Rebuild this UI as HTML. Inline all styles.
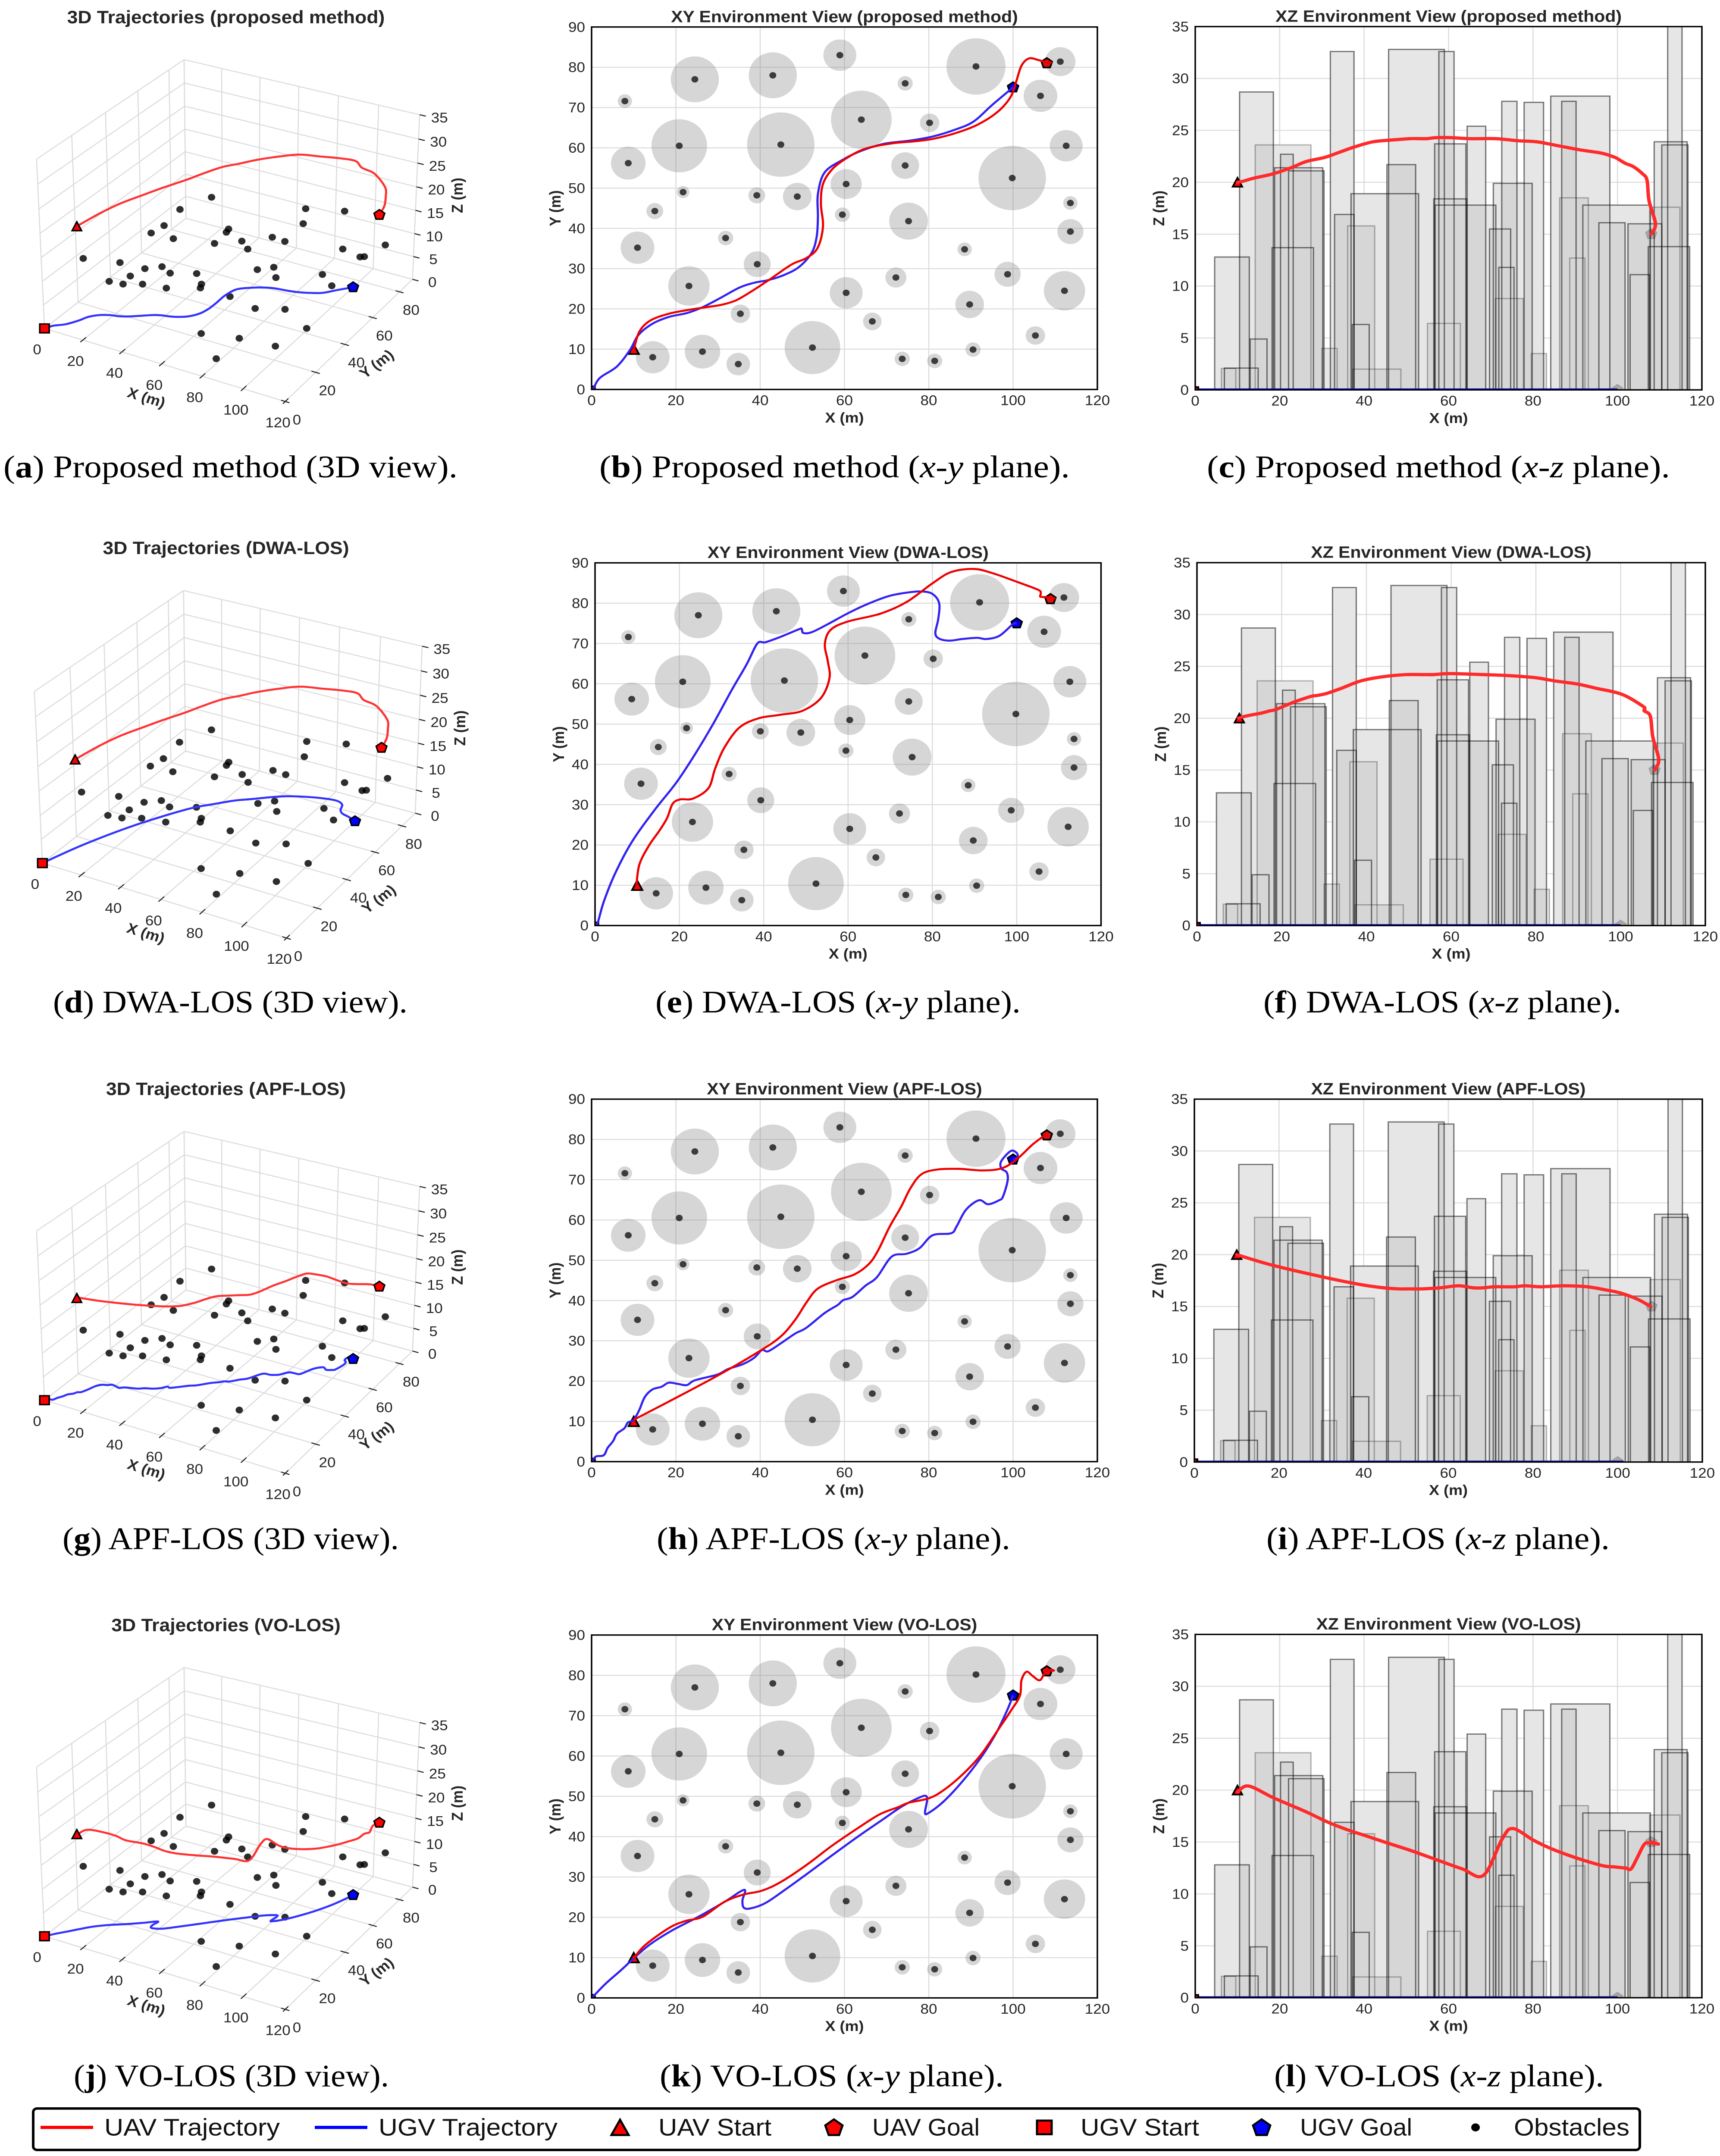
<!DOCTYPE html>
<html lang="en">
<head>
<meta charset="utf-8">
<title>Trajectory comparison figure</title>
<style>
html,body{margin:0;padding:0;background:#fff;width:3989px;overflow:hidden;}
svg{display:block;}
text{font-family:"Liberation Sans",sans-serif;fill:#262626;}
.cap text,text.cap{font-family:"Liberation Serif",serif;fill:#000;font-size:78px;}
.leg{font-size:60px;fill:#111;}
</style>
</head>
<body>
<svg id="figure" xmlns="http://www.w3.org/2000/svg" width="3989" height="5353" viewBox="0 0 3989 5353" preserveAspectRatio="none">
<rect x="0" y="0" width="3989" height="5353" fill="#fff"/>
<g id="plots"></g>
<g class="cap">
<text x="8" y="1185" textLength="1053" lengthAdjust="spacingAndGlyphs">(<tspan font-weight="bold">a</tspan>) Proposed method (3D view).</text>
<text x="1390" y="1185" textLength="1091" lengthAdjust="spacingAndGlyphs">(<tspan font-weight="bold">b</tspan>) Proposed method (<tspan font-style="italic">x-y</tspan> plane).</text>
<text x="2799" y="1185" textLength="1074" lengthAdjust="spacingAndGlyphs">(<tspan font-weight="bold">c</tspan>) Proposed method (<tspan font-style="italic">x-z</tspan> plane).</text>
<text x="123" y="2514" textLength="822" lengthAdjust="spacingAndGlyphs">(<tspan font-weight="bold">d</tspan>) DWA-LOS (3D view).</text>
<text x="1520" y="2514" textLength="847" lengthAdjust="spacingAndGlyphs">(<tspan font-weight="bold">e</tspan>) DWA-LOS (<tspan font-style="italic">x-y</tspan> plane).</text>
<text x="2930" y="2514" textLength="830" lengthAdjust="spacingAndGlyphs">(<tspan font-weight="bold">f</tspan>) DWA-LOS (<tspan font-style="italic">x-z</tspan> plane).</text>
<text x="145" y="3846" textLength="780" lengthAdjust="spacingAndGlyphs">(<tspan font-weight="bold">g</tspan>) APF-LOS (3D view).</text>
<text x="1523" y="3846" textLength="820" lengthAdjust="spacingAndGlyphs">(<tspan font-weight="bold">h</tspan>) APF-LOS (<tspan font-style="italic">x-y</tspan> plane).</text>
<text x="2937" y="3846" textLength="796" lengthAdjust="spacingAndGlyphs">(<tspan font-weight="bold">i</tspan>) APF-LOS (<tspan font-style="italic">x-z</tspan> plane).</text>
<text x="171" y="5180" textLength="731" lengthAdjust="spacingAndGlyphs">(<tspan font-weight="bold">j</tspan>) VO-LOS (3D view).</text>
<text x="1530" y="5180" textLength="798" lengthAdjust="spacingAndGlyphs">(<tspan font-weight="bold">k</tspan>) VO-LOS (<tspan font-style="italic">x-y</tspan> plane).</text>
<text x="2955" y="5180" textLength="765" lengthAdjust="spacingAndGlyphs">(<tspan font-weight="bold">l</tspan>) VO-LOS (<tspan font-style="italic">x-z</tspan> plane).</text>
</g>
<g>
<rect x="77" y="5235" width="3726" height="103" rx="9" fill="#fff" stroke="#000" stroke-width="6"/>
<line x1="94" y1="5282" x2="216" y2="5282" stroke="#ff0000" stroke-width="8"/>
<text class="leg" x="242" y="5302" textLength="407" lengthAdjust="spacingAndGlyphs">UAV Trajectory</text>
<line x1="730" y1="5282" x2="852" y2="5282" stroke="#0000ff" stroke-width="8"/>
<text class="leg" x="878" y="5302" textLength="415" lengthAdjust="spacingAndGlyphs">UGV Trajectory</text>
<polygon points="1438,5263 1418,5301 1458,5301" fill="#f00" stroke="#000" stroke-width="5"/>
<text class="leg" x="1527" y="5302" textLength="262" lengthAdjust="spacingAndGlyphs">UAV Start</text>
<polygon points="1934,5262 1954,5277 1946,5301 1922,5301 1914,5277" fill="#f00" stroke="#000" stroke-width="5"/>
<text class="leg" x="2023" y="5302" textLength="249" lengthAdjust="spacingAndGlyphs">UAV Goal</text>
<rect x="2405" y="5265" width="34" height="34" fill="#f00" stroke="#000" stroke-width="5"/>
<text class="leg" x="2506" y="5302" textLength="275" lengthAdjust="spacingAndGlyphs">UGV Start</text>
<polygon points="2926,5262 2946,5277 2938,5301 2914,5301 2906,5277" fill="#00f" stroke="#000" stroke-width="5"/>
<text class="leg" x="3015" y="5302" textLength="260" lengthAdjust="spacingAndGlyphs">UGV Goal</text>
<circle cx="3422" cy="5282" r="10" fill="#000"/>
<text class="leg" x="3511" y="5302" textLength="268" lengthAdjust="spacingAndGlyphs">Obstacles</text>
</g>
</svg>
<script>
// ---- chart data ----
const xTicks=[0,20,40,60,80,100,120];
const yTicks=[0,10,20,30,40,50,60,70,80,90];
const zTicks=[0,5,10,15,20,25,30,35];
const y3dTicks=[0,20,40,60,80];
const trajTitles=['3D Trajectories (proposed method)','3D Trajectories (DWA-LOS)','3D Trajectories (APF-LOS)','3D Trajectories (VO-LOS)'];
const xyTitles=['XY Environment View (proposed method)','XY Environment View (DWA-LOS)','XY Environment View (APF-LOS)','XY Environment View (VO-LOS)'];
const xzTitles=['XZ Environment View (proposed method)','XZ Environment View (DWA-LOS)','XZ Environment View (APF-LOS)','XZ Environment View (VO-LOS)'];
const xAxisLabel='X (m)';
const yAxisLabel='Y (m)';
const zAxisLabel='Z (m)';

const obsX=[7.9,8.7,10.9,15,14.5,20.8,21.7,24.5,23.1,26.3,31.8,34.8,35.3,39.2,39.3,43,44.9,48.8,52.4,58.9,59.5,60.4,60.4,64,66.6,72.2,73.7,74.4,74.4,75.2,80.2,81.4,88.5,89.7,90.5,91.2,98.7,99.8,105.3,106.5,111.2,112.2,112.6,113.6,113.6];
const obsY=[71.6,56.2,35.2,44.3,8,60.5,49,77,25.7,9.4,37.6,6.3,18.8,48.2,31.1,78,60.8,47.9,10.4,83,43.4,51,24,67,16.9,27.8,7.6,76,55.6,41.8,66.2,7.1,34.8,21.1,9.9,80.2,28.6,52.5,13.4,72.9,81.4,24.5,60.5,46.3,39.2];
const obsR=[1.7,4.1,4,2,4,6.6,1.5,5.7,4.9,4.2,1.8,2.8,2.3,2,3.2,5.7,8,3.4,6.6,3.9,1.8,3.7,3.9,7.2,2.2,2.5,1.8,1.8,3.3,4.6,2.3,1.8,1.7,3.4,1.8,7,3.1,8,2.3,4,3.6,4.9,3.9,1.7,3.1];
const obsH=[2.06,12.8,2.1,4.9,28.7,23.6,22.7,21.4,13.7,21.1,4,32.6,16.9,6.3,15.8,2,18.9,21.7,32.8,6.4,32.6,23.7,18.4,17.8,25.4,15.5,11.8,27.8,8.8,19.9,27.7,3.5,27.8,18.5,12.7,28.3,16.1,17.8,11.1,16,17.6,13.8,23.9,37,23.6];
const faintObstacles=[0,5,10,14,15,19,28,31,33,34,40];

const uavStart=[10,10,20];
const uavGoal=[108,81,15];
const ugvStart=[0,0,0];
const ugvGoal=[100,75,0];

const proposedUavX=[10,11.3,13.9,18.3,22.7,26.3,30.7,34.2,37.7,42.1,47.4,50.9,53.6,54.9,54.4,54.9,57.1,60.6,65,71.2,76.5,80.9,86.2,91.5,96.3,99.4,100.7,102,103.8,106,107,107.5,109,108];
const proposedUavY=[9.8,14.3,17.1,18.8,19.7,20.3,21,22.1,24.2,27.2,31,32.6,35.1,40.4,46.1,51,54.7,57.5,59.8,61.1,61.6,62.2,63.6,65.7,68.9,72.6,76.3,80.4,82.2,81.8,81.5,81.3,81.2,81];
const proposedUavZ=[20,20.1,20.4,20.8,21.4,22,22.4,22.9,23.4,23.9,24.1,24.2,24.2,24.2,24.2,24.2,24.3,24.3,24.2,24.2,24,23.9,23.5,23.1,22.8,22.4,22.1,21.8,21.5,20.8,20.2,18.2,16,15];
const proposedUgvX=[0,0.5,2,6,9.1,11.1,14.4,18.3,22.7,26.3,30.7,35.1,38.6,42.1,45.6,49.2,52.2,53.4,53.7,53.7,55.3,59.7,64.1,69.4,75.6,80.9,86.2,90.6,95,100];
const proposedUgvY=[0,0.4,2.9,5.7,9.8,13.5,16.3,18,19,20.4,22.8,25.3,26.5,27.2,28.4,30.4,33.9,37.9,42.8,48.5,53.9,57.1,59.3,61,61.8,62.8,64.5,66.5,70.6,75];

const dwaUavX=[9.8,10.5,12.7,15.3,17.1,18.4,20.2,23.2,26.9,28.5,30.7,34.2,38.7,43.9,49.2,53.6,55.6,55.2,54.5,55.8,59.8,67.7,73.9,80,84.4,89.7,94.1,100.3,105.1,105.7,105.6,107,107.6,109,108];
const dwaUavY=[9.9,15.1,19.7,23.6,26.7,30.2,31.3,31.5,34.1,39,44.2,49.1,51.4,52.3,53.3,56.5,61.4,65.6,69.8,73.3,75.4,77.4,80.3,84.9,87.7,88.5,87.5,85.2,83.3,82.4,81.6,81.5,81.3,81.2,81];
const dwaUavZ=[20,20.1,20.3,20.5,20.7,20.8,21.1,21.6,22.1,22.2,22.4,22.9,23.6,24,24.2,24.2,24.2,24.2,24.2,24.2,24.3,24.2,24.1,23.9,23.6,23.3,22.9,22.3,21.2,20.9,20.7,20.2,18.2,16,15];
const dwaUgvX=[0,0.6,2.1,4.8,8.7,14,19.3,23.7,28.1,32.5,36,38.5,40.4,43.9,48.3,49,49.4,51.4,55.4,59.8,64.2,69.5,73.9,77.4,80,81.6,81.4,80.7,81.6,84,87.1,90.6,92.8,95.9,99,100];
const dwaUgvY=[0,0.6,6,13,20.7,28.5,35.5,42.5,50.2,58.6,64.9,70,70.3,71.6,73.5,73.6,72.6,72.8,74.9,77.4,79.6,81.7,82.6,82.9,82.3,80,76.1,72.6,71.2,70.7,71.1,71.4,71.1,71.9,74.7,75];

// the 3D views of (a) and (d) show a smoother UAV track than the plan views
const track3dUavX=[10,13,17,22.8,28,34.8,39,44.7,50,55,62,69,77.8,85,91.7,94.5,101,108,108.5,108,108];
const track3dUavY=[10,20,28,35.3,41,48,52,58,63,68,74,78.7,81.6,84.5,86.6,87.3,87,84.6,84.6,84.6,81];
const track3dUavZ=[20,20.4,20.9,21.5,22.1,22.8,23.4,24,24.1,24.2,24.2,24.2,24,23.7,23.3,22,21.5,20,18,16,15];
const dwa3dUgvX=[0,6.6,17,29.6,38,44.4,50,56,62,69,77,84,88,89.7,92,96,100];
const dwa3dUgvY=[0,16.5,36,54,62,67.5,71,75,78.5,81.2,83.5,84.5,83,79.4,77.5,76.5,75];

const apfUavX=[10,18.3,29.8,39.5,44.8,48.3,50.9,53.6,58,62.4,65.9,68.1,70.7,73.4,75.6,78.2,81.8,87,92.8,97.2,100.7,104.7,107.8];
const apfUavY=[10.4,14.9,21.3,27.2,31,35.2,39.4,42.9,45,46.5,49.2,52.7,58.3,63.2,67.8,71.3,72.5,72.7,72.3,72.8,74.9,78.8,81.2];
const apfUavZ=[20,19,17.9,17.1,16.8,16.7,16.7,16.7,16.8,17,16.8,16.8,16.9,16.9,16.9,17,16.9,17,16.9,16.6,16.3,15.7,15];
const apfUgvX=[0,0.3,1.1,2.9,3.8,5.1,6,7.8,8.6,10,11.3,12.6,14.4,16.6,18.3,20.5,22.6,24.5,29.8,32.4,35.9,38.6,40.4,41.9,44.8,48.3,50.9,55.3,58.4,59.7,61.9,65,67.7,71.2,74.7,77.8,80.9,85.3,86.6,88.8,91.9,94.1,96.7,97.6,98.7,98.5,97.2,97.2,99.4,100.7,101.1,100.1];
const apfUgvY=[0,0.4,1.3,1.6,3.4,5.1,6.9,8.3,9.7,10.4,12.8,16,17.9,18.6,19.6,19.3,19,20.2,21.6,23,24.2,25.8,27.7,27.4,29.3,31.8,33.2,36.9,38.9,40.1,40.9,43.7,45.8,50.9,51.6,53,56.2,56.7,58.4,62.5,64.9,63.9,64.9,65.8,69.7,71.8,72.8,74.6,77.1,76.8,75.8,74.9];

const voUavX=[10,12.6,18.3,22.3,26.3,31.5,35.9,40.4,44.8,50.9,57.1,63.3,68.3,72.7,75.2,80,83.5,87.9,92.3,96.7,99.4,101.6,102,103.2,104.7,106.4,107.9,109.7,108];
const voUavY=[9.8,13,17.3,19.1,20.1,23.8,25.6,26.6,28.7,32.9,37.8,42.2,45.5,47.3,48.4,49.5,51.5,55.3,60.2,66.9,71.1,74.9,78.8,80.9,79.8,78.8,81.2,81.2,81];
const voUavZ=[19.8,20.4,19.3,18.6,17.9,16.9,16.2,15.6,15,14.2,13.3,12.4,11.8,15.3,16.3,15.2,14.5,13.8,13.2,12.7,12.6,12.5,12.5,12.4,13.5,14.8,14.9,14.8,15];
const voUgvX=[0,0.5,3.3,6.9,10,13.9,19.2,25.3,31.5,36.2,35.8,36.1,37.7,41.2,45.6,50.9,57.1,63.3,68.6,73.8,77.8,79.3,79.6,79.1,80,83.5,87.9,92.3,95.9,98.5,100];
const voUgvY=[0,0.5,3.5,6.8,9.8,13.3,16.8,20.1,23.8,26.8,24.2,22.4,22.2,23.5,26.6,30.6,35.4,40.1,43.9,47.6,49.7,50.1,49,45.9,45.9,48.7,53.6,59.5,65.5,71.1,75];

// ---- layout ----
// keep the whole figure inside the frame if the render viewport is shorter than the nominal height
function fitFigure(){
  const fig=document.getElementById('figure');
  const vh=window.innerHeight;
  const h=(vh>=4500&&vh<5353)?vh:5353;
  fig.setAttribute('height',h);
  document.documentElement.style.height=h+'px';
  document.body.style.height=h+'px';
}
fitFigure();
window.addEventListener('resize',fitFigure);

const xyBoxes=[[1372,67,2545,967],[1380,1397.5,2553.5,2298],[1372,2729,2545,3629],[1372,4059.5,2545,4960.5]];
const xzBoxes=[[2772,66,3947,968],[2776,1397,3955,2298],[2770,2729,3948,3630],[2772,4058,3947,4960]];
const traj3dTitleY=[43,1361,2704,4035];
const calibA=[[0,0,0,127,998],[20,0,0,230,1035],[40,0,0,340,1072],[60,0,0,451,1107],[80,0,0,563,1145],[100,0,0,678,1183],[120,0,0,797,1221],[120,20,0,885,1132],[120,40,0,967,1047],[120,60,0,1045,965],[120,80,0,1118,885],[120,90,0,1152,850],[0,90,0,518,670],[0,90,35,515,180],[120,90,35,1172,350],[0,0,35,102,485],[20,90,35,620,207],[40,90,35,727,235],[60,90,35,836,263],[80,90,35,947,292],[100,90,35,1059,321],[0,20,35,201,412],[0,40,35,295,345],[0,60,35,386,275],[0,80,35,473,210],[0,20,0,220,918],[0,40,0,310,840],[0,60,0,395,768]];
const calibD=[[0,0,0,121,1075],[20,0,0,228,1115],[40,0,0,335,1153],[60,0,0,449,1192],[80,0,0,562,1235],[100,0,0,678,1276],[120,0,0,800,1318],[120,20,0,893,1220],[120,40,0,975,1128],[120,60,0,1050,1040],[120,80,0,1125,957],[120,90,0,1158,912],[0,90,0,518,712],[0,90,35,513,190],[120,90,35,1180,372],[0,0,35,96,519],[20,90,35,620,220],[40,90,35,728,249],[60,90,35,838,280],[80,90,35,950,310],[100,90,35,1064,341],[0,20,35,196,440],[0,40,35,291,367],[0,60,35,383,293],[0,80,35,471,222],[0,20,0,215,990],[0,40,0,306,907],[0,60,0,393,825]];

const NS='http://www.w3.org/2000/svg';
const root=document.getElementById('plots');
function add(parent,tag,attrs,name,txt){
  const el=document.createElementNS(NS,tag);
  for(const k in attrs){el.setAttribute(k,attrs[k]);}
  
  
  if(txt!==undefined){el.textContent=txt;}
  parent.appendChild(el);
  return el;
}
function smoothPath(pts){
  let d='M'+pts[0][0].toFixed(1)+' '+pts[0][1].toFixed(1);
  for(let i=0;i<pts.length-1;i++){
    const p0=pts[Math.max(i-1,0)],p1=pts[i],p2=pts[i+1],p3=pts[Math.min(i+2,pts.length-1)];
    const c1x=p1[0]+(p2[0]-p0[0])/6,c1y=p1[1]+(p2[1]-p0[1])/6,c2x=p2[0]-(p3[0]-p1[0])/6,c2y=p2[1]-(p3[1]-p1[1])/6;
    d+='C'+c1x.toFixed(1)+' '+c1y.toFixed(1)+' '+c2x.toFixed(1)+' '+c2y.toFixed(1)+' '+p2[0].toFixed(1)+' '+p2[1].toFixed(1);
  }
  return d;
}
function marker(parent,kind,cx,cy,r,fill,stroke,sw,name){
  if(kind==='square'){
    return add(parent,'rect',{x:cx-r,y:cy-r,width:2*r,height:2*r,fill:fill,stroke:stroke,'stroke-width':sw},name);
  }
  let pts=[];
  if(kind==='triangle'){pts=[[cx,cy-r],[cx-r,cy+r],[cx+r,cy+r]];}
  else{for(let k=0;k<5;k++){const a=(-90+72*k)*Math.PI/180;pts.push([cx+r*Math.cos(a),cy+r*Math.sin(a)]);}}
  return add(parent,'polygon',{points:pts.map(p=>p[0].toFixed(1)+','+p[1].toFixed(1)).join(' '),fill:fill,stroke:stroke,'stroke-width':sw,'stroke-linejoin':'miter'},name);
}
function fitProjection(pts,sx,sy,ox,oy){
  const N=11,M=[],b=[];
  for(let i=0;i<N;i++){M.push(new Array(N).fill(0));b.push(0);}
  function acc(r,v){for(let i=0;i<N;i++){b[i]+=r[i]*v;for(let j=0;j<N;j++){M[i][j]+=r[i]*r[j];}}}
  pts.forEach(p=>{
    const X=p[0]/120,Y=p[1]/90,Z=p[2]/35,u=(p[3]/sx+ox)/1000,v=(p[4]/sy+oy)/1000;
    acc([X,Y,Z,1,0,0,0,0,-u*X,-u*Y,-u*Z],u);
    acc([0,0,0,0,X,Y,Z,1,-v*X,-v*Y,-v*Z],v);
  });
  for(let c=0;c<N;c++){
    let piv=c;
    for(let r=c+1;r<N;r++){if(Math.abs(M[r][c])>Math.abs(M[piv][c])){piv=r;}}
    [M[c],M[piv]]=[M[piv],M[c]];[b[c],b[piv]]=[b[piv],b[c]];
    for(let r=c+1;r<N;r++){
      const f=M[r][c]/M[c][c];
      for(let k=c;k<N;k++){M[r][k]-=f*M[c][k];}
      b[r]-=f*b[c];
    }
  }
  const p=new Array(N).fill(0);
  for(let i=N-1;i>=0;i--){let s=b[i];for(let j=i+1;j<N;j++){s-=M[i][j]*p[j];}p[i]=s/M[i][i];}
  return function(x,y,z){
    const X=x/120,Y=y/90,Z=z/35,w=p[8]*X+p[9]*Y+p[10]*Z+1;
    return [1000*(p[0]*X+p[1]*Y+p[2]*Z+p[3])/w,1000*(p[4]*X+p[5]*Y+p[6]*Z+p[7])/w];
  };
}
const GRID='#dcdcdc';
function scales(box,ymax){
  const L=box[0],T=box[1],R=box[2],B=box[3];
  return {L:L,T:T,R:R,B:B,sx:v=>L+v/120*(R-L),sy:v=>B-v/ymax*(B-T)};
}
function frameAxes(g,s,title,yVals,yLabel){
  xTicks.forEach(v=>{
    add(g,'line',{x1:s.sx(v),x2:s.sx(v),y1:s.T,y2:s.B,stroke:GRID,'stroke-width':2.5},'x-gridline');
  });
  yVals.forEach(v=>{
    add(g,'line',{x1:s.L,x2:s.R,y1:s.sy(v),y2:s.sy(v),stroke:GRID,'stroke-width':2.5},'y-gridline');
  });
  add(g,'text',{x:(s.L+s.R)/2,y:s.T-12,'text-anchor':'middle','font-size':41,'font-weight':'bold'},'chart-title',title);
  xTicks.forEach(v=>{
    add(g,'text',{x:s.sx(v),y:s.B+39,'text-anchor':'middle','font-size':35},'x-tick-label',String(v));
  });
  yVals.forEach(v=>{
    add(g,'text',{x:s.L-15,y:s.sy(v)+12,'text-anchor':'end','font-size':35},'y-tick-label',String(v));
  });
  add(g,'text',{x:(s.L+s.R)/2,y:s.B+82,'text-anchor':'middle','font-size':36,'font-weight':'bold'},'x-axis-title',xAxisLabel);
  add(g,'text',{transform:'translate('+(s.L-72)+' '+((s.T+s.B)/2)+') rotate(-90)','text-anchor':'middle','font-size':36,'font-weight':'bold'},'y-axis-title',yLabel);
}
function drawXY(idx,ux,uy,gx,gy){
  const g=add(root,'g',{},'xy-environment-panel');
  const s=scales(xyBoxes[idx],90);
  frameAxes(g,s,xyTitles[idx],yTicks,yAxisLabel);
  const cp=add(g,'clipPath',{id:'clipxy'+idx},'xy-clip');
  add(cp,'rect',{x:s.L,y:s.T,width:s.R-s.L,height:s.B-s.T},'xy-clip-rect');
  const inner=add(g,'g',{'clip-path':'url(#clipxy'+idx+')'},'xy-plot-area');
  const px=(s.R-s.L)/120,py=(s.B-s.T)/90;
  obsX.forEach((v,i)=>{
    add(inner,'ellipse',{cx:s.sx(v),cy:s.sy(obsY[i]),rx:obsR[i]*px,ry:obsR[i]*py,fill:'#808080','fill-opacity':0.32},'obstacle-footprint');
  });
  obsX.forEach((v,i)=>{
    add(inner,'circle',{cx:s.sx(v),cy:s.sy(obsY[i]),r:8,fill:'#000','fill-opacity':0.72},'obstacle-point');
  });
  marker(inner,'square',s.sx(ugvStart[0]),s.sy(ugvStart[1]),8,'#f00','#000',3.5,'ugv-start-marker');
  marker(inner,'pentagon',s.sx(ugvGoal[0]),s.sy(ugvGoal[1]),13,'#0000ee','#000',4,'ugv-goal-marker');
  marker(inner,'triangle',s.sx(uavStart[0]),s.sy(uavStart[1]),12,'#f00','#000',4,'uav-start-marker');
  marker(inner,'pentagon',s.sx(uavGoal[0]),s.sy(uavGoal[1]),13,'#e01010','#000',4,'uav-goal-marker');
  add(inner,'path',{d:smoothPath(gx.map((v,i)=>[s.sx(v),s.sy(gy[i])])),fill:'none',stroke:'#3322f0','stroke-width':5,'stroke-linejoin':'round'},'ugv-trajectory');
  add(inner,'path',{d:smoothPath(ux.map((v,i)=>[s.sx(v),s.sy(uy[i])])),fill:'none',stroke:'#ee0000','stroke-width':5,'stroke-linejoin':'round'},'uav-trajectory');
  add(g,'rect',{x:s.L,y:s.T,width:s.R-s.L,height:s.B-s.T,fill:'none',stroke:'#000','stroke-width':3.5},'plot-frame');
}
function drawXZ(idx,ux,uz,gx){
  const g=add(root,'g',{},'xz-environment-panel');
  const s=scales(xzBoxes[idx],35);
  frameAxes(g,s,xzTitles[idx],zTicks,zAxisLabel);
  const cp=add(g,'clipPath',{id:'clipxz'+idx},'xz-clip');
  add(cp,'rect',{x:s.L,y:s.T,width:s.R-s.L,height:s.B-s.T},'xz-clip-rect');
  const inner=add(g,'g',{'clip-path':'url(#clipxz'+idx+')'},'xz-plot-area');
  // single-layer buildings are light, any overlap is one flat darker tone
  obsX.forEach((v,i)=>{
    add(inner,'rect',{x:s.sx(v-obsR[i]),y:s.sy(obsH[i]),width:s.sx(v+obsR[i])-s.sx(v-obsR[i]),height:s.B-s.sy(obsH[i]),fill:'#e6e6e6',style:'mix-blend-mode:darken'},'obstacle-building-fill');
  });
  obsX.forEach((v,i)=>{
    for(let j=i+1;j<obsX.length;j++){
      const a=Math.max(v-obsR[i],obsX[j]-obsR[j]),b=Math.min(v+obsR[i],obsX[j]+obsR[j]),h=Math.min(obsH[i],obsH[j]);
      if(b>a){
        add(inner,'rect',{x:s.sx(a),y:s.sy(h),width:s.sx(b)-s.sx(a),height:s.B-s.sy(h),fill:'#d6d6d6',style:'mix-blend-mode:darken'},'obstacle-overlap');
      }
    }
  });
  marker(inner,'pentagon',s.sx(uavGoal[0]),s.sy(uavGoal[2]),13,'#a8a8a8','#a0a0a0',3,'uav-goal-marker');
  marker(inner,'pentagon',s.sx(ugvGoal[0]),s.sy(ugvGoal[2]),13,'#a8a8a8','#a0a0a0',3,'ugv-goal-marker');
  obsX.forEach((v,i)=>{
    const faint=faintObstacles.indexOf(i)>=0;
    add(inner,'rect',{x:s.sx(v-obsR[i]),y:s.sy(obsH[i]),width:s.sx(v+obsR[i])-s.sx(v-obsR[i]),height:s.B-s.sy(obsH[i]),fill:'none',stroke:'#000','stroke-opacity':faint?0.28:0.52,'stroke-width':3},'obstacle-building');
  });
  add(inner,'path',{d:smoothPath(gx.map(v=>[s.sx(v),s.sy(0)])),fill:'none',stroke:'#0000cc','stroke-width':7},'ugv-trajectory');
  marker(inner,'square',s.sx(ugvStart[0]),s.sy(ugvStart[2]),7,'#f00','#000',4,'ugv-start-marker');
  marker(inner,'triangle',s.sx(uavStart[0]),s.sy(uavStart[2]),11,'#f00','#000',4,'uav-start-marker');
  add(inner,'path',{d:smoothPath(ux.map((v,i)=>[s.sx(v),s.sy(uz[i])])),fill:'none',stroke:'#ff2a2a','stroke-width':8,'stroke-linejoin':'round','stroke-linecap':'round'},'uav-trajectory');
  add(g,'rect',{x:s.L,y:s.T,width:s.R-s.L,height:s.B-s.T,fill:'none',stroke:'#000','stroke-width':3.5},'plot-frame');
}
function draw3D(idx,proj0,dy,ux,uy,uz,gx,gy){
  const g=add(root,'g',{},'trajectory-3d-panel');
  const P=(x,y,z)=>{const q=proj0(x,y,z);return [q[0],q[1]+dy];};
  function seg(a,b,col,w,name){
    const p=P(a[0],a[1],a[2]),q=P(b[0],b[1],b[2]);
    add(g,'line',{x1:p[0],y1:p[1],x2:q[0],y2:q[1],stroke:col,'stroke-width':w},name);
  }
  const yGrid=y3dTicks.concat([90]);
  xTicks.forEach(v=>{
    seg([v,0,0],[v,90,0],GRID,2.5,'floor-gridline');
    seg([v,90,0],[v,90,35],GRID,2.5,'back-wall-gridline');
  });
  yGrid.forEach(v=>{
    seg([0,v,0],[120,v,0],GRID,2.5,'floor-gridline');
    seg([0,v,0],[0,v,35],GRID,2.5,'side-wall-gridline');
  });
  zTicks.forEach(v=>{
    seg([0,0,v],[0,90,v],GRID,2.5,'side-wall-gridline');
    seg([0,90,v],[120,90,v],GRID,2.5,'back-wall-gridline');
  });
  xTicks.forEach(v=>{
    seg([v,-1.5,0],[v,2,0],'#222',2.5,'x-tick');
    const p=P(v,0,0);
    add(g,'text',{x:p[0]-17,y:p[1]+64,'text-anchor':'middle','font-size':35},'x-tick-label',String(v));
  });
  y3dTicks.forEach(v=>{
    seg([118,v,0],[122,v,0],'#222',2.5,'y-tick');
    const p=P(120,v,0);
    add(g,'text',{x:p[0]+27,y:p[1]+57,'text-anchor':'middle','font-size':35},'y-tick-label',String(v));
  });
  zTicks.forEach(v=>{
    seg([120,90,v],[123,90,v],'#222',2.5,'z-tick');
    const p=P(120,90,v);
    add(g,'text',{x:p[0]+46,y:p[1]+19,'text-anchor':'middle','font-size':35},'z-tick-label',String(v));
  });
  const lx=P(60,0,0),ly=P(120,45,0),lz=P(120,90,17.5);
  add(g,'text',{transform:'translate('+(lx[0]-39)+' '+(lx[1]+95)+') rotate(18)','text-anchor':'middle','font-size':36,'font-weight':'bold'},'x-axis-title',xAxisLabel);
  add(g,'text',{transform:'translate('+(ly[0]+65)+' '+(ly[1]+75)+') rotate(-39)','text-anchor':'middle','font-size':36,'font-weight':'bold'},'y-axis-title',yAxisLabel);
  add(g,'text',{transform:'translate('+(lz[0]+108)+' '+(lz[1]-8)+') rotate(-90)','text-anchor':'middle','font-size':36,'font-weight':'bold'},'z-axis-title',zAxisLabel);
  add(g,'text',{x:524,y:traj3dTitleY[idx]+15,'text-anchor':'middle','font-size':44.5,'font-weight':'bold'},'chart-title',trajTitles[idx]);
  obsX.forEach((v,i)=>{
    const p=P(v,obsY[i],Math.min(obsH[i],35)/2);
    add(g,'circle',{cx:p[0],cy:p[1],r:8.5,fill:'#000','fill-opacity':0.82},'obstacle-point');
  });
  add(g,'path',{d:smoothPath(gx.map((v,i)=>P(v,gy[i],0))),fill:'none',stroke:'#3333ff','stroke-width':5,'stroke-linejoin':'round'},'ugv-trajectory');
  add(g,'path',{d:smoothPath(ux.map((v,i)=>P(v,uy[i],uz[i]))),fill:'none',stroke:'#ff3333','stroke-width':5,'stroke-linejoin':'round'},'uav-trajectory');
  let m=P(ugvStart[0],ugvStart[1],ugvStart[2]);
  marker(g,'square',m[0],m[1],11,'#f00','#000',3.5,'ugv-start-marker');
  m=P(ugvGoal[0],ugvGoal[1],ugvGoal[2]);
  marker(g,'pentagon',m[0],m[1],13,'#00f','#000',3.5,'ugv-goal-marker');
  m=P(uavStart[0],uavStart[1],uavStart[2]);
  marker(g,'triangle',m[0],m[1],11,'#f00','#000',3.5,'uav-start-marker');
  m=P(uavGoal[0],uavGoal[1],uavGoal[2]);
  marker(g,'pentagon',m[0],m[1],13,'#f00','#000',3.5,'uav-goal-marker');
}
const projA=fitProjection(calibA,1.206,1.225,0,0);
const projD=fitProjection(calibD,1.206,1.3067,0,1320);

draw3D(0,projA,0,track3dUavX,track3dUavY,track3dUavZ,proposedUgvX,proposedUgvY);
draw3D(1,projD,0,track3dUavX,track3dUavY,track3dUavZ,dwa3dUgvX,dwa3dUgvY);
draw3D(2,projA,2661,apfUavX,apfUavY,apfUavZ,apfUgvX,apfUgvY);
draw3D(3,projA,3992,voUavX,voUavY,voUavZ,voUgvX,voUgvY);

drawXY(0,proposedUavX,proposedUavY,proposedUgvX,proposedUgvY);
drawXY(1,dwaUavX,dwaUavY,dwaUgvX,dwaUgvY);
drawXY(2,apfUavX,apfUavY,apfUgvX,apfUgvY);
drawXY(3,voUavX,voUavY,voUgvX,voUgvY);

drawXZ(0,proposedUavX,proposedUavZ,proposedUgvX);
drawXZ(1,dwaUavX,dwaUavZ,dwaUgvX);
drawXZ(2,apfUavX,apfUavZ,apfUgvX);
drawXZ(3,voUavX,voUavZ,voUgvX);
</script>
</body>
</html>
